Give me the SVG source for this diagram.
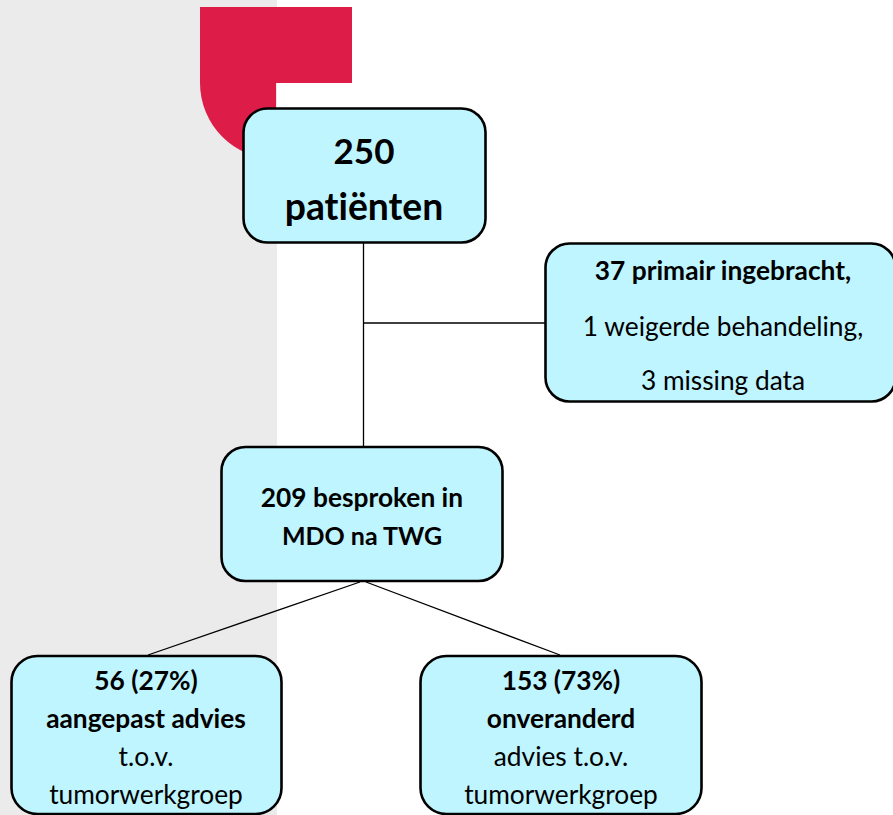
<svg xmlns="http://www.w3.org/2000/svg" width="893" height="815" viewBox="0 0 893 815">
<style>
.n{fill:#bff5ff;stroke:#000;stroke-width:2.6}
.c{stroke:#000;stroke-width:1.3;fill:none}
text{font-family:"Lato","Noto Sans","Liberation Sans",sans-serif;text-anchor:middle;fill:#000;font-variant-ligatures:none}
.b{font-weight:700}
.t{font-size:26.300px}
.x{font-size:37.300px;font-weight:700}
</style>
<rect width="893" height="815" fill="#fff"/>
<rect x="0" y="0" width="277" height="815" fill="#ebebeb"/>
<path d="M200 7H352V83H276V159A76 76 0 0 1 200 83Z" fill="#dd1c47"/>
<g id="connectors">
<path class="c" d="M363.500 243V447M364 323H546M360 582L148 655M366 582L560 655"/>
</g>
<g id="n250"><rect class="n" x="243.500" y="108.500" width="242" height="134" rx="24"/>
<text class="x" x="364" y="164" style="font-size:35px">250</text><text class="x" x="364" y="220">patiënten</text></g>
<g id="nExcluded"><rect class="n" x="545.500" y="243.500" width="350" height="158" rx="24"/>
<text class="t b" x="723" y="280">37 primair ingebracht,</text><text class="t" x="723" y="336">1 weigerde behandeling,</text><text class="t" x="723" y="390">3 missing data</text></g>
<g id="nMdo"><rect class="n" x="221.500" y="447" width="281" height="134" rx="24"/>
<text class="t b" x="362" y="507">209 besproken in</text><text class="t b" x="362" y="545" style="font-size:25px">MDO na TWG</text></g>
<g id="nAangepast"><rect class="n" x="11.500" y="656" width="270" height="158" rx="26"/>
<text class="t b" x="146" y="690">56 (27%)</text><text class="t b" x="146" y="728">aangepast advies</text><text class="t" x="146" y="766">t.o.v.</text><text class="t" x="146" y="804">tumorwerkgroep</text></g>
<g id="nOnveranderd"><rect class="n" x="420.500" y="656" width="281" height="158" rx="26"/>
<text class="t b" x="561" y="690">153 (73%)</text><text class="t b" x="561" y="728">onveranderd</text><text class="t" x="561" y="766">advies t.o.v.</text><text class="t" x="561" y="804">tumorwerkgroep</text></g>
</svg>
